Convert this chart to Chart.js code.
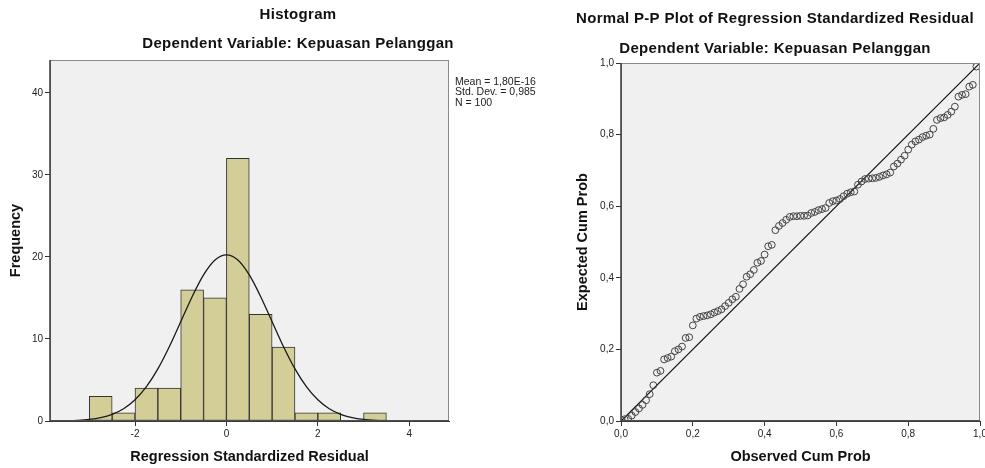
<!DOCTYPE html>
<html><head><meta charset="utf-8">
<script src="https://cdn.jsdelivr.net/npm/chart.js@4"></script>
<style>
html,body{margin:0;padding:0;background:#fff;}
#wrap{position:relative;width:985px;height:468px;overflow:hidden;background:#fff;}
#c1{position:absolute;left:0;top:0;}
#c2{position:absolute;left:560px;top:0;}
</style></head><body>
<div id="wrap">
<canvas id="c1" width="600" height="468" style="width:600px;height:468px"></canvas>
<canvas id="c2" width="425" height="468" style="width:425px;height:468px"></canvas>
</div>
<script>
// ---------- Histogram data ----------
const histBinCenters = [-2.75,-2.25,-1.75,-1.25,-0.75,-0.25,0.25,0.75,1.25,1.75,2.25,2.75,3.25];
const histFrequencies = [3,1,4,4,16,15,32,13,9,1,1,0,1];
const curveX = [-4,-3.75,-3.5,-3.25,-3,-2.75,-2.5,-2.25,-2,-1.75,-1.5,-1.25,-1,-0.75,-0.5,-0.25,0,
  0.25,0.5,0.75,1,1.25,1.5,1.75,2,2.25,2.5,2.75,3,3.25,3.5,3.75,4,4.25,4.5,4.75,5];
const curveY = [0.005,0.014,0.037,0.088,0.196,0.41,0.81,1.49,2.58,4.18,6.35,9.05,12.10,15.15,17.80,19.61,20.25,
  19.61,17.80,15.15,12.10,9.05,6.35,4.18,2.58,1.49,0.81,0.41,0.196,0.088,0.037,0.014,0.005,0.002,0.001,0.0003,0.0001];
const histXTicks = [-2,0,2,4];
const histYTicks = [0,10,20,30,40];
const histStats = ['Mean = 1,80E-16','Std. Dev. = 0,985','N = 100'];
const histTitles = ['Histogram','Dependent Variable: Kepuasan Pelanggan'];

// ---------- P-P plot data ----------
const observedCumProb = [0.00,0.01,0.02,0.03,0.04,0.05,0.06,0.07,0.08,0.09,
  0.10,0.11,0.12,0.13,0.14,0.15,0.16,0.17,0.18,0.19,
  0.20,0.21,0.22,0.23,0.24,0.25,0.26,0.27,0.28,0.29,
  0.30,0.31,0.32,0.33,0.34,0.35,0.36,0.37,0.38,0.39,
  0.40,0.41,0.42,0.43,0.44,0.45,0.46,0.47,0.48,0.49,
  0.50,0.51,0.52,0.53,0.54,0.55,0.56,0.57,0.58,0.59,
  0.60,0.61,0.62,0.63,0.64,0.65,0.66,0.67,0.68,0.69,
  0.70,0.71,0.72,0.73,0.74,0.75,0.76,0.77,0.78,0.79,
  0.80,0.81,0.82,0.83,0.84,0.85,0.86,0.87,0.88,0.89,
  0.90,0.91,0.92,0.93,0.94,0.95,0.96,0.97,0.98,0.99];
const expectedCumProb = [0.003,0.005,0.006,0.015,0.025,0.035,0.045,0.058,0.075,0.100,
  0.135,0.140,0.172,0.176,0.180,0.195,0.200,0.208,0.232,0.234,
  0.267,0.286,0.291,0.293,0.295,0.298,0.303,0.307,0.312,0.321,
  0.330,0.340,0.347,0.369,0.382,0.403,0.410,0.422,0.442,0.447,
  0.465,0.488,0.492,0.533,0.545,0.553,0.562,0.570,0.572,0.572,
  0.573,0.573,0.574,0.581,0.584,0.589,0.592,0.595,0.609,0.614,
  0.616,0.620,0.628,0.635,0.639,0.641,0.660,0.669,0.676,0.677,
  0.678,0.679,0.682,0.686,0.689,0.694,0.711,0.719,0.730,0.741,
  0.758,0.772,0.781,0.786,0.793,0.797,0.800,0.816,0.841,0.846,
  0.848,0.855,0.864,0.878,0.906,0.911,0.913,0.934,0.939,0.990];
const ppTicks = [0,0.2,0.4,0.6,0.8,1.0];
const ppDiagonal = [0,1];
const ppTitles = ['Normal P-P Plot of Regression Standardized Residual','Dependent Variable: Kepuasan Pelanggan'];

// ---------- shared styling ----------
const FONT = "'Liberation Sans', Arial, sans-serif";
const tickFont = {family: FONT, size: 10};
const axisTitleFont = {family: FONT, size: 14.5, weight: 'bold'};

function fixBox(width, height) {
  return function(scale) {
    if (width !== null) scale.width = width;
    if (height !== null) scale.height = height;
    scale.paddingLeft = 0; scale.paddingRight = 0; scale.paddingTop = 0; scale.paddingBottom = 0;
  };
}
function setTicks(list) {
  return function(scale) { scale.ticks = list.map(v => ({value: v})); };
}
const commaFmt = v => Number(v).toFixed(1).replace('.', ',');

const framePlugin = {
  id: 'frame',
  beforeDraw(chart) {
    const a = chart.chartArea, ctx = chart.ctx;
    ctx.save();
    ctx.fillStyle = '#f0f0f0';
    ctx.fillRect(a.left, a.top, a.right - a.left, a.bottom - a.top);
    ctx.restore();
  },
  afterDatasetsDraw(chart) {
    const a = chart.chartArea, ctx = chart.ctx;
    ctx.save();
    ctx.strokeStyle = '#8a8a8a';
    ctx.lineWidth = 1;
    ctx.strokeRect(Math.round(a.left) + 0.5, Math.round(a.top) + 0.5, Math.round(a.right - a.left) - 1, Math.round(a.bottom - a.top) - 1);
    ctx.strokeStyle = '#3c3c3c';
    ctx.lineWidth = 1.5;
    ctx.beginPath();
    ctx.moveTo(a.left, a.top); ctx.lineTo(a.left, a.bottom); ctx.lineTo(a.right, a.bottom);
    ctx.stroke();
    ctx.restore();
  }
};

function textPlugin(titles, cx, ys, stats) {
  return {
    id: 'texts',
    afterDraw(chart) {
      const ctx = chart.ctx;
      ctx.save();
      ctx.fillStyle = '#111';
      ctx.textAlign = 'center';
      ctx.textBaseline = 'middle';
      ctx.font = 'bold 15px ' + FONT;
      try { ctx.letterSpacing = '0.3px'; } catch (e) {}
      titles.forEach((t, i) => ctx.fillText(t, cx, ys[i]));
      try { ctx.letterSpacing = '0px'; } catch (e) {}
      if (stats) {
        ctx.textAlign = 'left';
        ctx.font = '10.5px ' + FONT;
        ctx.fillStyle = '#222';
        stats.lines.forEach((t, i) => ctx.fillText(t, stats.x, stats.y + i * 10.5));
      }
      ctx.restore();
    }
  };
}

// ---------- Chart 1: Histogram ----------
const H1 = {L: 50, R: 449, T: 60, B: 421, W: 600, H: 468};
new Chart(document.getElementById('c1'), {
  type: 'bar',
  data: {
    datasets: [
      {
        type: 'line',
        data: curveX.map((x, i) => ({x: x, y: curveY[i]})),
        borderColor: '#1a1a1a',
        borderWidth: 1.3,
        pointRadius: 0,
        fill: false,
        cubicInterpolationMode: 'monotone',
        order: 0
      },
      {
        type: 'bar',
        data: histBinCenters.map((x, i) => ({x: x, y: histFrequencies[i]})),
        backgroundColor: '#d3ce98',
        borderColor: '#333333',
        borderWidth: 1,
        borderSkipped: false,
        barPercentage: 1.0,
        categoryPercentage: 1.0,
        order: 1
      }
    ]
  },
  options: {
    responsive: false,
    animation: false,
    events: [],
    layout: {padding: {left: 0, top: H1.T, right: H1.W - H1.R, bottom: 0}},
    plugins: {legend: {display: false}, tooltip: {enabled: false}},
    scales: {
      x: {
        type: 'linear', min: -3.86, max: 4.87, offset: false,
        afterFit: fixBox(null, H1.H - H1.B),
        afterBuildTicks: setTicks(histXTicks),
        ticks: {font: tickFont, color: '#222', padding: 2, maxRotation: 0, autoSkip: false,
                callback: v => String(v)},
        grid: {offset: false, drawOnChartArea: false, drawTicks: true, tickLength: 5, color: '#333'},
        border: {display: true, color: '#3c3c3c'},
        title: {display: true, text: 'Regression Standardized Residual', font: axisTitleFont, color: '#111',
                padding: {top: 0, bottom: 2}}
      },
      y: {
        type: 'linear', min: 0, max: 44,
        afterFit: fixBox(H1.L, null),
        afterBuildTicks: setTicks(histYTicks),
        ticks: {font: tickFont, color: '#222', padding: 2, callback: v => String(v)},
        grid: {offset: false, drawOnChartArea: false, drawTicks: true, tickLength: 5, color: '#333'},
        border: {display: true, color: '#3c3c3c'},
        title: {display: true, text: 'Frequency', font: axisTitleFont, color: '#111',
                padding: {top: 7, bottom: 0}}
      }
    }
  },
  plugins: [framePlugin, textPlugin(histTitles, 298, [15, 44], {lines: histStats, x: 455, y: 82})]
});

// ---------- Chart 2: Normal P-P plot ----------
const H2 = {L: 61, R: 421, T: 63, B: 421, W: 425, H: 468};
new Chart(document.getElementById('c2'), {
  type: 'scatter',
  data: {
    datasets: [
      {
        type: 'line',
        data: ppDiagonal.map(v => ({x: v, y: v})),
        borderColor: '#111',
        borderWidth: 1.2,
        pointRadius: 0,
        fill: false,
        order: 1
      },
      {
        type: 'scatter',
        data: observedCumProb.map((x, i) => ({x: x, y: expectedCumProb[i]})),
        pointStyle: 'circle',
        pointRadius: 3.4,
        borderColor: '#444',
        borderWidth: 1,
        backgroundColor: 'rgba(0,0,0,0)',
        order: 0
      }
    ]
  },
  options: {
    responsive: false,
    animation: false,
    events: [],
    layout: {padding: {left: 0, top: H2.T, right: H2.W - H2.R, bottom: 0}},
    plugins: {legend: {display: false}, tooltip: {enabled: false}},
    scales: {
      x: {
        type: 'linear', min: 0, max: 1,
        afterFit: fixBox(null, H2.H - H2.B),
        afterBuildTicks: setTicks(ppTicks),
        ticks: {font: tickFont, color: '#222', padding: 2, maxRotation: 0, autoSkip: false, callback: commaFmt},
        grid: {offset: false, drawOnChartArea: false, drawTicks: true, tickLength: 5, color: '#333'},
        border: {display: true, color: '#3c3c3c'},
        title: {display: true, text: 'Observed Cum Prob', font: axisTitleFont, color: '#111',
                padding: {top: 0, bottom: 2}}
      },
      y: {
        type: 'linear', min: 0, max: 1,
        afterFit: fixBox(H2.L, null),
        afterBuildTicks: setTicks(ppTicks),
        ticks: {font: tickFont, color: '#222', padding: 2, callback: commaFmt},
        grid: {offset: false, drawOnChartArea: false, drawTicks: true, tickLength: 5, color: '#333'},
        border: {display: true, color: '#3c3c3c'},
        title: {display: true, text: 'Expected Cum Prob', font: axisTitleFont, color: '#111',
                padding: {top: 14, bottom: 0}}
      }
    }
  },
  plugins: [framePlugin, textPlugin(ppTitles, 215, [19, 49], null)]
});
</script>
</body></html>
